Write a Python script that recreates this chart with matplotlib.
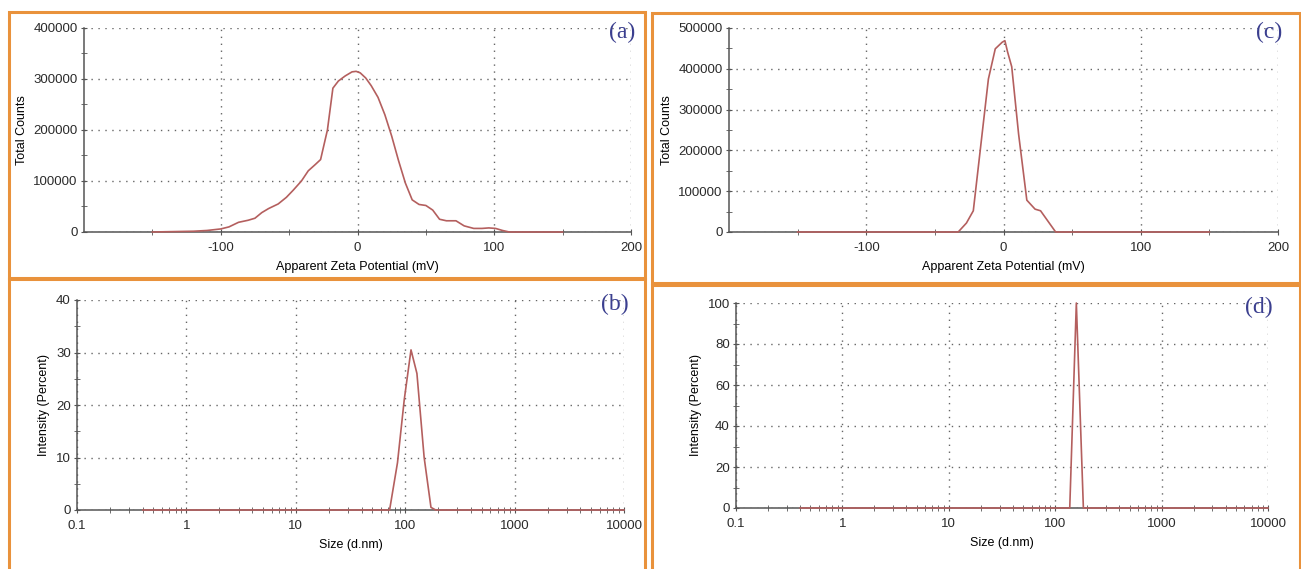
import matplotlib
matplotlib.use("Agg")
import matplotlib.pyplot as plt
import matplotlib.ticker as mticker
from matplotlib.patches import Rectangle

# (a) zeta potential distribution
zeta_a_mv = [-150, -120, -110, -100, -94, -87, -80, -75, -70, -65, -58, -52, -47,
             -41, -36, -31, -27, -22, -18, -14, -9, -4, -1, 2, 6, 10, 15, 20, 25,
             30, 35, 40, 45, 50, 55, 60, 65, 72, 78, 85, 91, 96, 101, 106, 111, 150]
counts_a = [0, 1500, 3000, 6000, 10000, 19000, 23000, 27000, 38000, 46000, 55000,
            68000, 82000, 100000, 120000, 132000, 142000, 200000, 282000, 296000,
            306000, 314000, 315000, 312000, 302000, 287000, 264000, 230000, 188000,
            140000, 96000, 63000, 54000, 52000, 43000, 25000, 22000, 22000, 12000,
            7000, 7000, 8000, 7000, 3000, 0, 0]

# (c) zeta potential distribution
zeta_c_mv = [-150, -33, -27, -22, -17, -11, -6, -1, 1, 3, 6, 11, 17, 23, 27, 38, 150]
counts_c = [0, 0, 22000, 52000, 199000, 375000, 449000, 465000, 469000, 441000,
            405000, 240000, 78000, 56000, 52000, 0, 0]

# (b) size distribution
size_b_nm = [0.4, 72, 85, 98, 113, 128, 149, 172, 190, 10000]
intensity_b = [0, 0, 9, 21, 30.5, 26, 10, 0.5, 0, 0]

# (d) size distribution
size_d_nm = [0.4, 137, 158, 184, 10000]
intensity_d = [0, 0, 100, 0, 0]

line_color = "#b45f5e"
axis_color = "#555555"
frame_color = "#e9923c"
label_color = "#3b3f8f"

plt.rcParams["font.family"] = ["Liberation Sans", "DejaVu Sans"]
plt.rcParams["axes.unicode_minus"] = False

W, H = 1301, 569
fig = plt.figure(figsize=(W / 100, H / 100), dpi=100)


def add_axes(left, right, top, bottom):
    return fig.add_axes([left / W, 1 - bottom / H, (right - left) / W, (bottom - top) / H])


def style(ax):
    for side in ("top", "right"):
        ax.spines[side].set_visible(False)
    for side in ("left", "bottom"):
        ax.spines[side].set_color(axis_color)
        ax.spines[side].set_linewidth(1.1)
    ax.grid(True, which="major", color="#666666", linestyle=(0, (1, 4)), linewidth=1.0)
    ax.tick_params(which="both", direction="inout", color=axis_color, labelsize=9.5,
                   labelcolor="#2a2a2a")
    ax.tick_params(which="major", length=5)
    ax.tick_params(which="minor", length=4)
    ax.tick_params(axis="x", pad=5)
    ax.tick_params(axis="y", pad=2)


def tag_label(ax, tag):
    ax.text(1.008, 1.03, tag, transform=ax.transAxes, ha="right", va="top",
            fontsize=17, color=label_color, family="Liberation Serif")


def zeta_panel(ax, x, y, ymax, tag):
    ax.plot(x, y, color=line_color, linewidth=1.2, clip_on=False, zorder=3)
    ax.set_xlim(-200, 200)
    ax.set_ylim(0, ymax)
    ax.xaxis.set_major_locator(mticker.FixedLocator([-100, 0, 100, 200]))
    ax.xaxis.set_minor_locator(mticker.FixedLocator([-150, -50, 50, 150]))
    ax.yaxis.set_major_locator(mticker.MultipleLocator(100000))
    ax.yaxis.set_minor_locator(mticker.MultipleLocator(50000))
    ax.set_xlabel("Apparent Zeta Potential (mV)", fontsize=9, labelpad=5)
    ax.set_ylabel("Total Counts", fontsize=9, labelpad=4)
    style(ax)
    tag_label(ax, tag)


def size_panel(ax, x, y, ymax, step, tag):
    ax.plot(x, y, color=line_color, linewidth=1.2, clip_on=False, zorder=3)
    ax.set_xscale("log")
    ax.set_xlim(0.1, 10000)
    ax.set_ylim(0, ymax)
    ax.xaxis.set_major_locator(mticker.FixedLocator([0.1, 1, 10, 100, 1000, 10000]))
    ax.xaxis.set_major_formatter(mticker.FixedFormatter(["0.1", "1", "10", "100", "1000", "10000"]))
    ax.xaxis.set_minor_locator(mticker.LogLocator(base=10, subs=range(2, 10), numticks=20))
    ax.xaxis.set_minor_formatter(mticker.NullFormatter())
    ax.yaxis.set_major_locator(mticker.MultipleLocator(step))
    ax.yaxis.set_minor_locator(mticker.MultipleLocator(step / 2))
    ax.set_xlabel("Size (d.nm)", fontsize=9, labelpad=5)
    ax.set_ylabel("Intensity (Percent)", fontsize=9, labelpad=4)
    style(ax)
    tag_label(ax, tag)


ax_a = add_axes(84, 631, 28, 232)
zeta_panel(ax_a, zeta_a_mv, counts_a, 400000, "(a)")

ax_c = add_axes(729, 1278, 28, 232)
zeta_panel(ax_c, zeta_c_mv, counts_c, 500000, "(c)")

ax_b = add_axes(77, 624, 300, 510)
size_panel(ax_b, size_b_nm, intensity_b, 40, 10, "(b)")

ax_d = add_axes(736, 1268, 303, 508)
size_panel(ax_d, size_d_nm, intensity_d, 100, 20, "(d)")

# orange panel frames (figure pixel coordinates)
frames = [(9, 12, 645, 278), (652, 13, 1300, 283), (9, 279, 645, 572), (652, 285, 1300, 572)]
for x0, y0, x1, y1 in frames:
    fig.patches.append(Rectangle((x0 / W, 1 - y1 / H), (x1 - x0) / W, (y1 - y0) / H,
                                 transform=fig.transFigure, fill=False,
                                 edgecolor=frame_color, linewidth=2.2, zorder=0))

fig.savefig("out.png", dpi=100)
